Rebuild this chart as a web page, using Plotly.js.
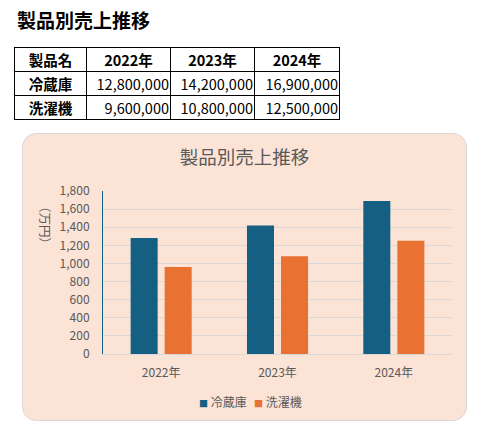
<!DOCTYPE html>
<html lang="ja">
<head>
<meta charset="utf-8">
<script src="https://cdn.plot.ly/plotly-3.0.1.min.js"></script>
<style>
  html, body { margin: 0; padding: 0; background: #ffffff; }
  body { width: 497px; height: 444px; position: relative; overflow: hidden;
         font-family: "Noto Sans CJK JP", "Noto Sans", sans-serif; color: #000; }
  #pageTitle { position: absolute; left: 17px; top: 7px; margin: 0;
               font-size: 19px; font-weight: bold; line-height: 26px; }
  #salesTable { position: absolute; left: 14px; top: 47px; border-collapse: collapse;
                table-layout: fixed; width: 325px; font-size: 14.5px; line-height: 20px; }
  #salesTable td, #salesTable th { border: 1px solid #000; padding: 0 1px; height: 24px;
                                   box-sizing: border-box; white-space: nowrap; overflow: hidden; }
  #salesTable th { font-weight: bold; text-align: center; }
  #salesTable td.name { font-weight: bold; text-align: center; }
  #salesTable td.num { text-align: right; }
  #chartBox { position: absolute; left: 22px; top: 133px; width: 445px; height: 288px;
              box-sizing: border-box; border: 1px solid #d9d9d9; border-radius: 14px;
              background: #fbe3d6; overflow: hidden; }
  #chart { width: 443px; height: 286px; }
</style>
</head>
<body>
<h1 id="pageTitle">製品別売上推移</h1>
<table id="salesTable"></table>
<div id="chartBox"><div id="chart"></div></div>
<script>
// Sales per product and year (yen)
const years = ["2022年", "2023年", "2024年"];
const products = ["冷蔵庫", "洗濯機"];
const fridgeSales = [12800000, 14200000, 16900000];
const washerSales = [9600000, 10800000, 12500000];
const headerName = "製品名";
const yTickValues = [0, 200, 400, 600, 800, 1000, 1200, 1400, 1600, 1800];

const salesByProduct = [fridgeSales, washerSales];
const colors = ["#156082", "#e97132"];
const colWidths = [72, 84, 84, 85];

// Build the summary table
const table = document.getElementById("salesTable");
const colgroup = document.createElement("colgroup");
colWidths.forEach(w => {
  const col = document.createElement("col");
  col.style.width = w + "px";
  colgroup.appendChild(col);
});
table.appendChild(colgroup);
const headRow = document.createElement("tr");
[headerName].concat(years).forEach(t => {
  const th = document.createElement("th");
  th.textContent = t;
  headRow.appendChild(th);
});
table.appendChild(headRow);
products.forEach((p, pi) => {
  const tr = document.createElement("tr");
  const nameCell = document.createElement("td");
  nameCell.className = "name";
  nameCell.textContent = p;
  tr.appendChild(nameCell);
  salesByProduct[pi].forEach(v => {
    const td = document.createElement("td");
    td.className = "num";
    td.textContent = v.toLocaleString("en-US");
    tr.appendChild(td);
  });
  table.appendChild(tr);
});

// Chart values in 万円
const toMan = arr => arr.map(v => v / 10000);

const font = "Noto Sans CJK JP, Noto Sans, sans-serif";
const gray = "#595959";

const traces = products.map((p, i) => ({
  type: "bar",
  name: p,
  x: years,
  y: toMan(salesByProduct[i]),
  marker: { color: colors[i] },
  hoverinfo: "skip",
  showlegend: false
}));

// Compact legend: small colour square followed by the product name
const legendX = [0.269, 0.427];
const legendItems = products.map((p, i) => ({
  text: '<span style="font-size:9px;color:' + colors[i] + '">■</span> ' + p,
  xref: "paper", yref: "paper",
  x: legendX[i], y: -0.294,
  xanchor: "left", yanchor: "middle",
  showarrow: false,
  font: { family: font, size: 12, color: gray }
}));

const layout = {
  width: 443,
  height: 286,
  margin: { l: 80, r: 14, t: 57, b: 66 },
  paper_bgcolor: "rgba(0,0,0,0)",
  plot_bgcolor: "rgba(0,0,0,0)",
  font: { family: font, color: gray, size: 12 },
  title: {
    text: "製品別売上推移",
    font: { family: font, size: 18.5, color: gray },
    x: 0.5, xanchor: "center",
    y: 1 - 24 / 286, yanchor: "middle", yref: "container"
  },
  barmode: "group",
  bargap: 0.415,
  bargroupgap: 0.206,
  xaxis: {
    type: "category",
    showgrid: false,
    showline: true,
    linecolor: "#d9d9d9",
    linewidth: 1,
    ticks: "",
    ticklabelstandoff: 8,
    tickfont: { family: font, size: 12, color: gray },
    fixedrange: true
  },
  yaxis: {
    range: [0, 1800],
    tickvals: yTickValues,
    tickformat: ",d",
    showgrid: true,
    gridcolor: "#d9d9d9",
    gridwidth: 1,
    zeroline: false,
    showline: true,
    linecolor: "#156082",
    linewidth: 1,
    ticks: "",
    ticklabelstandoff: 10,
    tickfont: { family: font, size: 12, color: gray },
    fixedrange: true
  },
  showlegend: false,
  annotations: [{
    text: "（万円）",
    textangle: 90,
    xref: "paper", yref: "paper",
    x: -57 / 349, y: 1 - 34 / 163,
    xanchor: "center", yanchor: "middle",
    showarrow: false,
    font: { family: font, size: 12.5, color: gray }
  }].concat(legendItems)
};

Plotly.newPlot("chart", traces, layout, { displayModeBar: false, staticPlot: true });
</script>
</body>
</html>
